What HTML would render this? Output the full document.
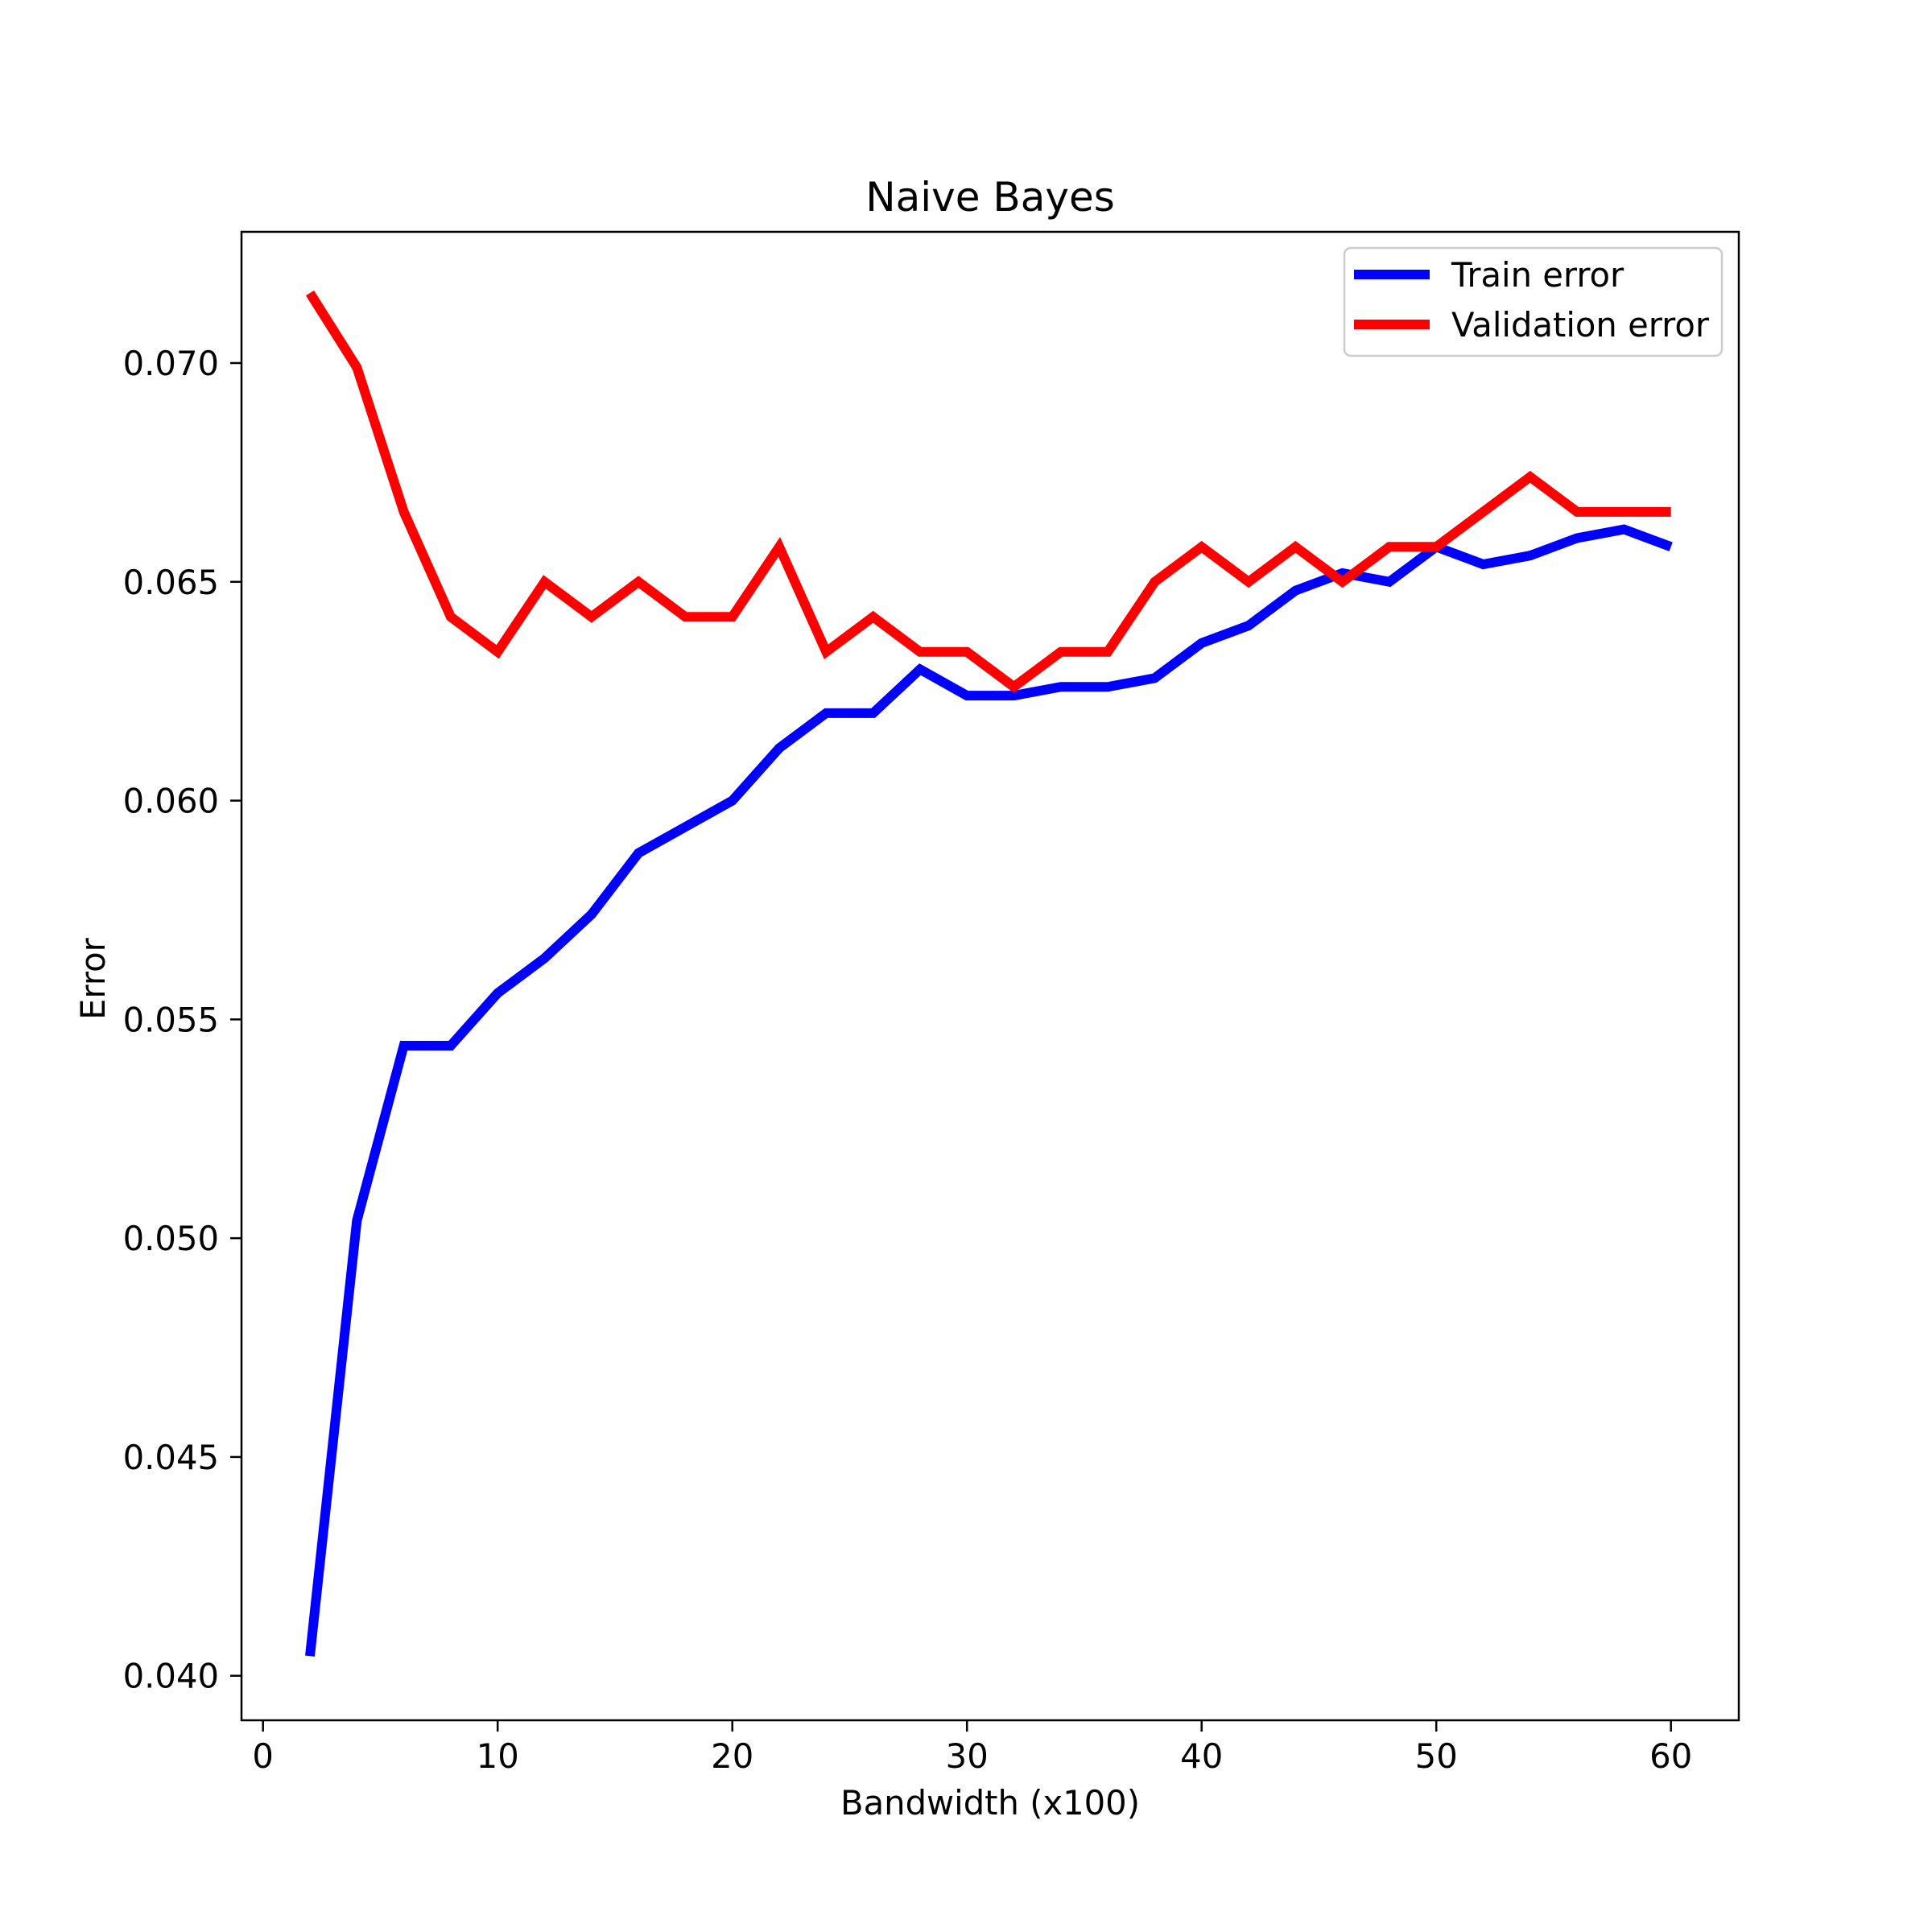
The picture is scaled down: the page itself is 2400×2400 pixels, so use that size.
<!DOCTYPE html>
<html><head><meta charset="utf-8"><style>
html,body{margin:0;padding:0;background:#fff;}
svg{display:block;font-family:"DejaVu Sans","Liberation Sans",sans-serif;}
</style></head><body>
<svg id="chart" width="2400" height="2400" viewBox="0 0 2400 2400" xmlns="http://www.w3.org/2000/svg">
<rect width="2400" height="2400" fill="#fff"/>
<g id="plot"></g>
</svg>
<script>
const xs = [2,4,6,8,10,12,14,16,18,20,22,24,26,28,30,32,34,36,38,40,42,44,46,48,50,52,54,56,58,60];
const trainErr = [0.04045,0.0504,0.0544,0.0544,0.0556,0.0564,0.0574,0.0588,0.0594,0.0600,0.0612,0.0620,0.0620,0.0630,0.0624,0.0624,0.0626,0.0626,0.0628,0.0636,0.0640,0.0648,0.0652,0.0650,0.0658,0.0654,0.0656,0.0660,0.0662,0.0658];
const valErr = [0.0716,0.0699,0.0666,0.0642,0.0634,0.0650,0.0642,0.0650,0.0642,0.0642,0.0658,0.0634,0.0642,0.0634,0.0634,0.0626,0.0634,0.0634,0.0650,0.0658,0.0650,0.0658,0.0650,0.0658,0.0658,0.0666,0.0674,0.0666,0.0666,0.0666];
const xTicks = [0,10,20,30,40,50,60];
const yTicks = [0.040,0.045,0.050,0.055,0.060,0.065,0.070];
const yTickLabels = ["0.040","0.045","0.050","0.055","0.060","0.065","0.070"];

const AX = {l:300, r:2160, t:288, b:2137};
function sx(v){ return 326.7 + v*(2075.7-326.7)/60; }
function sy(v){ return 2081.7 - (v-0.040)*(2081.7-451)/0.030; }
const NS="http://www.w3.org/2000/svg";
const g=document.getElementById('plot');
function mk(tag,attrs,parent){const e=document.createElementNS(NS,tag);for(const k in attrs)e.setAttribute(k,attrs[k]);(parent||g).appendChild(e);return e;}

function line(data,color,name){
  const p=mk('polyline',{points:xs.map((x,i)=>sx(x)+','+sy(data[i])).join(' '),fill:'none',stroke:color,'stroke-width':12,'stroke-linejoin':'miter','stroke-linecap':'butt'});
  
  
}
line(trainErr,'#0000ff','train-error-line');
line(valErr,'#ff0000','validation-error-line');

const frame=mk('rect',{x:AX.l,y:AX.t,width:AX.r-AX.l,height:AX.b-AX.t,fill:'none',stroke:'#000','stroke-width':2.5});



xTicks.forEach(v=>{
  const x=sx(v);
  const t=mk('line',{x1:x,y1:AX.b,x2:x,y2:AX.b+14,stroke:'#000','stroke-width':2.5});
  
  
  const l=mk('text',{x:x,y:2196,'font-size':41.7,'text-anchor':'middle',fill:'#000'});
  l.textContent=v;
  
  
});
yTicks.forEach((v,i)=>{
  const y=sy(v);
  const t=mk('line',{x1:AX.l-14,y1:y,x2:AX.l,y2:y,stroke:'#000','stroke-width':2.5});
  
  
  const l=mk('text',{x:272,y:y+15,'font-size':41.7,'text-anchor':'end',fill:'#000'});
  l.textContent=yTickLabels[i];
  
  
});

const title=mk('text',{x:1230,y:262,'font-size':50,'text-anchor':'middle',fill:'#000'});
title.textContent='Naive Bayes';


const xl=mk('text',{x:1230,y:2254,'font-size':41.7,'text-anchor':'middle',fill:'#000'});
xl.textContent='Bandwidth (x100)';


const yl=mk('text',{x:0,y:0,'font-size':41.7,'text-anchor':'middle',fill:'#000',transform:'translate(130,1216) rotate(-90)'});
yl.textContent='Error';



const leg=mk('g',{});


mk('rect',{x:1670,y:308,width:469,height:134,rx:8,fill:'#fff','fill-opacity':0.8,stroke:'#ccc','stroke-width':2.5},leg);
[['Train error','#0000ff',341],['Validation error','#ff0000',403]].forEach(([txt,c,y])=>{
  const e=mk('g',{},leg);
  
  
  mk('line',{x1:1682,y1:y,x2:1776,y2:y,stroke:c,'stroke-width':12},e);
  const t=mk('text',{x:1803,y:y+15,'font-size':41.7,fill:'#000'},e);
  t.textContent=txt;
});
</script>
</body></html>
